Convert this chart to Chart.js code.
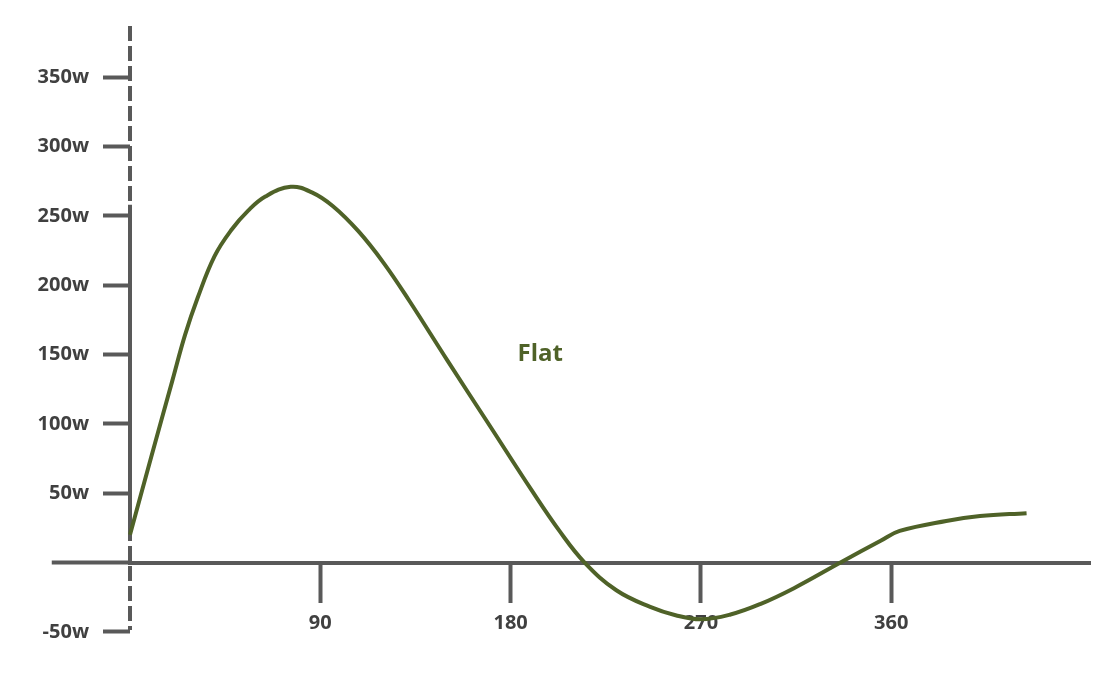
<!DOCTYPE html>
<html>
<head>
<meta charset="utf-8">
<script src="https://cdn.jsdelivr.net/npm/chart.js@4/dist/chart.umd.min.js"></script>
<style>
  html, body { margin: 0; padding: 0; background: #ffffff; }
  canvas { display: block; }
</style>
</head>
<body>
<canvas id="chart" width="1105" height="691"></canvas>
<script>
  // crank angle (degrees) and power
  const angles = [0, 10, 20, 26, 32, 40, 48, 56, 64, 76, 86, 96, 108, 120, 132, 150, 170, 190, 203, 215, 230, 246, 258, 270, 284, 298, 314, 336, 355, 364, 386, 402, 424];
  const power = [20, 76, 131, 164, 191, 221, 240, 254, 264, 271, 267, 257, 239, 216, 189, 146, 99, 52, 23, 0, -20, -32, -38, -41, -37.5, -30, -18.5, 0, 15.7, 22.8, 30, 33.5, 35.6];
  const xTicks = [90, 180, 270, 360];
  const yTicks = [-50, 50, 100, 150, 200, 250, 300, 350];
  const seriesLabel = 'Flat';

  const axisColor = '#595959';
  const textColor = '#404040';
  const lineColor = '#4f6228';
  const fontFamily = "'Open Sans', 'DejaVu Sans', sans-serif";

  // x axis line runs a bit left of the y axis
  const xLineStart = -37;
  // part of the y axis that is drawn solid instead of dashed
  const solidFrom = 258;
  const solidTo = 22;
  // where the series name sits, in data units
  const labelAt = { x: 194, y: 150 };

  const axisOverlay = {
    id: 'axisOverlay',
    beforeDatasetsDraw(chart) {
      const { ctx, chartArea, scales: { x, y } } = chart;
      const px = x.getPixelForValue(0);
      const py = y.getPixelForValue(0);
      ctx.save();
      ctx.strokeStyle = axisColor;
      ctx.lineWidth = 4;

      // x axis stub left of the y axis
      ctx.beginPath();
      ctx.moveTo(x.getPixelForValue(xLineStart), py);
      ctx.lineTo(px, py);
      ctx.stroke();

      // dashed y axis
      ctx.setLineDash([15, 5]);
      ctx.beginPath();
      ctx.moveTo(px, chartArea.top);
      ctx.lineTo(px, chartArea.bottom - 6);
      ctx.stroke();

      // solid middle stretch
      ctx.setLineDash([]);
      ctx.beginPath();
      ctx.moveTo(px, y.getPixelForValue(solidFrom));
      ctx.lineTo(px, y.getPixelForValue(solidTo));
      ctx.stroke();
      ctx.restore();
    },
    afterDatasetsDraw(chart) {
      const { ctx, scales: { x, y } } = chart;
      ctx.save();
      ctx.fillStyle = lineColor;
      ctx.font = `bold 24px ${fontFamily}`;
      ctx.textAlign = 'center';
      ctx.textBaseline = 'middle';
      ctx.fillText(seriesLabel, x.getPixelForValue(labelAt.x), y.getPixelForValue(labelAt.y));
      ctx.restore();
    }
  };

  new Chart(document.getElementById('chart'), {
    type: 'line',
    data: {
      datasets: [
        {
          label: seriesLabel,
          data: angles.map((a, i) => ({ x: a, y: power[i] })),
          borderColor: lineColor,
          borderWidth: 4,
          pointRadius: 0,
          tension: 0.4,
          fill: false,
          clip: 4
        }
      ]
    },
    options: {
      responsive: false,
      animation: false,
      layout: { padding: { left: 30, right: 15, top: 19, bottom: 55 } },
      plugins: {
        legend: { display: false },
        tooltip: { enabled: false }
      },
      scales: {
        x: {
          type: 'linear',
          min: 0,
          max: 454,
          position: { y: 0 },
          afterBuildTicks: (scale) => {
            scale.ticks = xTicks.map((v) => ({ value: v }));
          },
          border: { display: true, color: axisColor, width: 4 },
          grid: { drawOnChartArea: false, drawTicks: true, tickLength: 38, tickWidth: 4, tickColor: axisColor },
          ticks: {
            color: textColor,
            padding: 11,
            maxRotation: 0,
            font: { family: fontFamily, size: 20, weight: 'bold' }
          }
        },
        y: {
          type: 'linear',
          min: -53,
          max: 387,
          position: 'left',
          afterBuildTicks: (scale) => {
            scale.ticks = yTicks.map((v) => ({ value: v }));
          },
          afterFit: (scale) => {
            scale.width = 100;
          },
          border: { display: false },
          grid: { drawOnChartArea: false, drawTicks: true, tickLength: 27, tickWidth: 4, tickColor: axisColor },
          ticks: {
            color: textColor,
            padding: 14,
            font: { family: fontFamily, size: 20, weight: 'bold' },
            callback: (value) => `${value}w`
          }
        }
      }
    },
    plugins: [axisOverlay]
  });
</script>
</body>
</html>
